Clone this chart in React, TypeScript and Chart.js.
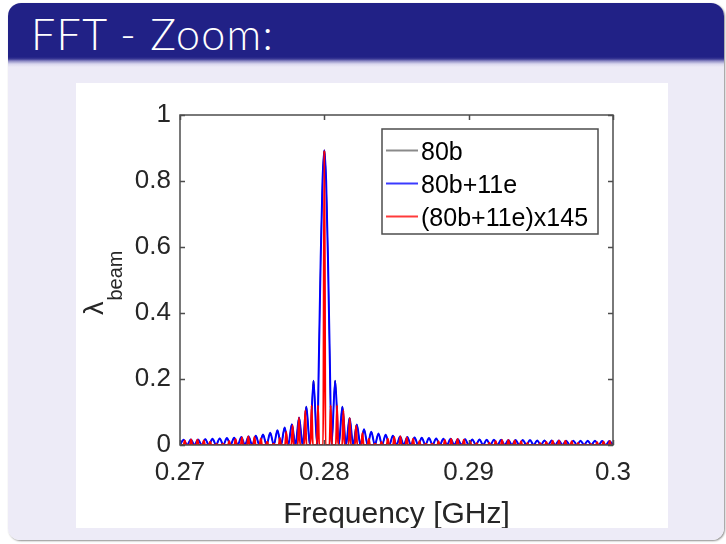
import React, { useEffect, useRef } from 'react';
import { Chart, registerables } from 'chart.js';

Chart.register(...registerables);

// ---- axis ticks ----
const xTickValues = [0.27, 0.28, 0.29, 0.3];
const xTickLabels = ['0.27', '0.28', '0.29', '0.3'];
const yTickValues = [0, 0.2, 0.4, 0.6, 0.8, 1];
const yTickLabels = ['0', '0.2', '0.4', '0.6', '0.8', '1'];

// ---- series names / colours ----
const seriesNames = ['80b', '80b+11e', '(80b+11e)x145'];
const seriesColors = ['#000000', '#0000ff', '#ff0000'];
const legendSwatchColors = ['#8a8a8a', '#3a3aff', '#ff3a3a'];

// ---- 80b+11e spectrum (frequency in GHz, amplitude) ----
const blueFreq = [
  0.27, 0.27025, 0.2705, 0.27075, 0.271, 0.27125, 0.2715, 0.27175, 0.272, 0.27225,
  0.2725, 0.27275, 0.273, 0.27325, 0.2735, 0.27375, 0.274, 0.27425, 0.2745, 0.27475,
  0.275, 0.27525, 0.2755, 0.27575, 0.276, 0.27625, 0.2765, 0.27675, 0.277, 0.27725,
  0.2775, 0.27775, 0.278, 0.27825, 0.2785, 0.27875, 0.279, 0.27925, 0.2795, 0.279625,
  0.27975, 0.279875, 0.28, 0.280125, 0.28025, 0.280375, 0.2805, 0.28075, 0.281, 0.28125,
  0.2815, 0.28175, 0.282, 0.28225, 0.2825, 0.28275, 0.283, 0.28325, 0.2835, 0.28375,
  0.284, 0.28425, 0.2845, 0.28475, 0.285, 0.28525, 0.2855, 0.28575, 0.286, 0.28625,
  0.2865, 0.28675, 0.287, 0.28725, 0.2875, 0.28775, 0.288, 0.28825, 0.2885, 0.28875,
  0.289, 0.28925, 0.2895, 0.28975, 0.29, 0.29025, 0.2905, 0.29075, 0.291, 0.29125,
  0.2915, 0.29175, 0.292, 0.29225, 0.2925, 0.29275, 0.293, 0.29325, 0.2935, 0.29375,
  0.294, 0.29425, 0.2945, 0.29475, 0.295, 0.29525, 0.2955, 0.29575, 0.296, 0.29625,
  0.2965, 0.29675, 0.297, 0.29725, 0.2975, 0.29775, 0.298, 0.29825, 0.2985, 0.29875,
  0.299, 0.29925, 0.2995, 0.29975, 0.3,
];
const blueValue = [
  0, 0.016, 0, 0.017, 0, 0.017, 0, 0.018, 0, 0.019,
  0, 0.020, 0, 0.021, 0, 0.022, 0, 0.024, 0, 0.026,
  0, 0.028, 0, 0.032, 0, 0.037, 0, 0.045, 0, 0.053,
  0, 0.063, 0, 0.083, 0, 0.116, 0, 0.195, 0, 0.27,
  0.57, 0.80, 0.893, 0.80, 0.57, 0.27, 0, 0.195, 0, 0.116,
  0, 0.082, 0, 0.062, 0, 0.048, 0, 0.040, 0, 0.035,
  0, 0.031, 0, 0.028, 0, 0.026, 0, 0.024, 0, 0.023,
  0, 0.022, 0, 0.021, 0, 0.020, 0, 0.019, 0, 0.019,
  0, 0.018, 0, 0.018, 0, 0.017, 0, 0.017, 0, 0.016,
  0, 0.016, 0, 0.016, 0, 0.015, 0, 0.015, 0, 0.015,
  0, 0.015, 0, 0.014, 0, 0.014, 0, 0.014, 0, 0.014,
  0, 0.013, 0, 0.013, 0, 0.013, 0, 0.013, 0, 0.013,
  0, 0.012, 0, 0.012, 0,
];
// 80b alone: identical trace, fully hidden under the blue one
const blackValue = blueValue;

// ---- (80b+11e)x145 spectrum: narrow comb lines (GHz, amplitude) ----
const redFreq = [
  0.27033, 0.27077, 0.27121, 0.27165, 0.27209, 0.27253, 0.27297, 0.27341, 0.27385, 0.27429,
  0.27473, 0.27516, 0.2756, 0.27604, 0.27648, 0.27692, 0.27736, 0.2778, 0.27824, 0.27868,
  0.27912, 0.27956, 0.28, 0.28044, 0.28088, 0.28132, 0.28176, 0.2822, 0.28264, 0.28308,
  0.28352, 0.28396, 0.2844, 0.28484, 0.28527, 0.28571, 0.28615, 0.28659, 0.28703, 0.28747,
  0.28791, 0.28835, 0.28879, 0.28923, 0.28967, 0.29011, 0.29055, 0.29099, 0.29143, 0.29187,
  0.29231, 0.29275, 0.29319, 0.29363, 0.29407, 0.29451, 0.29495, 0.29538, 0.29582, 0.29626,
  0.2967, 0.29714, 0.29758, 0.29802, 0.29846, 0.2989, 0.29934, 0.29978,
];
const redValue = [
  0.014, 0.017, 0.016, 0.014, 0.010, 0.003, 0.004, 0.012, 0.018, 0.023,
  0.026, 0.024, 0.020, 0.010, 0.004, 0.021, 0.040, 0.060, 0.083, 0.105,
  0.12, 0.12, 0.893, 0.12, 0.12, 0.105, 0.082, 0.059, 0.036, 0.019,
  0.004, 0.009, 0.019, 0.024, 0.026, 0.023, 0.019, 0.012, 0.004, 0.004,
  0.011, 0.015, 0.018, 0.018, 0.016, 0.011, 0.005, 0.001, 0.007, 0.012,
  0.015, 0.015, 0.014, 0.011, 0.006, 0.001, 0.005, 0.009, 0.013, 0.014,
  0.013, 0.011, 0.006, 0.002, 0.003, 0.008, 0.010, 0.012,
];

const FONT = "'Liberation Sans', Arial, Helvetica, sans-serif";
const TEXT = '#262626';

function tracePoints(fs: number[], vs: number[]) {
  return fs.map((f, i) => ({ x: f, y: vs[i] }));
}

// comb lines drawn as very narrow spikes sitting on the zero line
function spikePoints(fs: number[], vs: number[], halfWidth: number) {
  const pts: { x: number; y: number }[] = [{ x: xTickValues[0], y: 0 }];
  fs.forEach((f, i) => {
    pts.push({ x: f - halfWidth, y: 0 });
    pts.push({ x: f, y: vs[i] });
    pts.push({ x: f + halfWidth, y: 0 });
  });
  pts.push({ x: xTickValues[xTickValues.length - 1], y: 0 });
  return pts;
}

const matlabFrame = {
  id: 'matlabFrame',
  afterDatasetsDraw(chart: any) {
    const { ctx, chartArea: a, scales } = chart;
    ctx.save();
    // axes box
    ctx.strokeStyle = '#4d4d4d';
    ctx.lineWidth = 1.5;
    ctx.strokeRect(a.left, a.top, a.right - a.left, a.bottom - a.top);
    // inward ticks on all four sides
    const tl = 5;
    ctx.beginPath();
    xTickValues.forEach((v) => {
      const px = Math.round(scales.x.getPixelForValue(v)) + 0.5;
      ctx.moveTo(px, a.bottom);
      ctx.lineTo(px, a.bottom - tl);
      ctx.moveTo(px, a.top);
      ctx.lineTo(px, a.top + tl);
    });
    yTickValues.forEach((v) => {
      const py = Math.round(scales.y.getPixelForValue(v)) + 0.5;
      ctx.moveTo(a.left, py);
      ctx.lineTo(a.left + tl, py);
      ctx.moveTo(a.right, py);
      ctx.lineTo(a.right - tl, py);
    });
    ctx.stroke();

    // legend box (MATLAB style, north-east inside axes)
    const bw = 216;
    const bh = 105;
    const bx = a.right - 15 - bw;
    const by = a.top + 14;
    ctx.fillStyle = '#ffffff';
    ctx.fillRect(bx, by, bw, bh);
    ctx.strokeStyle = '#4d4d4d';
    ctx.lineWidth = 1.5;
    ctx.strokeRect(bx, by, bw, bh);
    const rows = [21.5, 54.5, 87.5];
    ctx.font = `25px ${FONT}`;
    ctx.textBaseline = 'alphabetic';
    ctx.textAlign = 'left';
    seriesNames.forEach((name, i) => {
      const cy = by + rows[i];
      ctx.strokeStyle = legendSwatchColors[i];
      ctx.lineWidth = 2;
      ctx.beginPath();
      ctx.moveTo(bx + 4, cy);
      ctx.lineTo(bx + 36, cy);
      ctx.stroke();
      ctx.fillStyle = '#000000';
      ctx.fillText(name, bx + 39, cy + 9);
    });

    // y-axis title: lambda with subscript "beam", rotated
    ctx.save();
    ctx.translate(27, 232);
    ctx.rotate(-Math.PI / 2);
    ctx.fillStyle = TEXT;
    ctx.font = `27px ${FONT}`;
    ctx.fillText('\u03bb', 0, 0);
    const lw = ctx.measureText('\u03bb').width;
    ctx.font = `20px ${FONT}`;
    ctx.fillText('beam', lw + 1, 19);
    ctx.restore();

    ctx.restore();
  },
};

export default function App() {
  const ref = useRef<HTMLCanvasElement | null>(null);

  useEffect(() => {
    if (!ref.current) return;
    const chart = new Chart(ref.current, {
      type: 'line',
      data: {
        datasets: [
          {
            label: seriesNames[0],
            data: tracePoints(blueFreq, blackValue),
            borderColor: seriesColors[0],
            borderWidth: 1,
            pointRadius: 0,
            cubicInterpolationMode: 'monotone',
            order: 3,
          },
          {
            label: seriesNames[1],
            data: tracePoints(blueFreq, blueValue),
            borderColor: seriesColors[1],
            borderWidth: 2,
            pointRadius: 0,
            cubicInterpolationMode: 'monotone',
            order: 2,
          },
          {
            label: seriesNames[2],
            data: spikePoints(redFreq, redValue, 0.00008),
            borderColor: seriesColors[2],
            borderWidth: 2,
            pointRadius: 0,
            cubicInterpolationMode: 'monotone',
            order: 1,
          },
        ],
      },
      options: {
        animation: false,
        responsive: false,
        devicePixelRatio: 1,
        layout: { padding: { left: 0, right: 55, top: 32, bottom: 0 } },
        plugins: {
          legend: { display: false },
          tooltip: { enabled: false },
          title: { display: false },
        },
        scales: {
          x: {
            type: 'linear',
            min: 0.27,
            max: 0.3,
            grid: { display: false, drawTicks: false },
            border: { display: false },
            afterBuildTicks: (s: any) => {
              s.ticks = xTickValues.map((v) => ({ value: v }));
            },
            afterFit: (s: any) => {
              s.height = 83;
            },
            ticks: {
              autoSkip: false,
              maxRotation: 0,
              padding: 12,
              color: TEXT,
              font: { family: FONT, size: 26 },
              callback: (_v: any, i: number) => xTickLabels[i],
            },
            title: {
              display: true,
              text: 'Frequency [GHz]',
              color: TEXT,
              font: { family: FONT, size: 30, lineHeight: 0.9 },
              padding: { top: 0, bottom: 0 },
            },
          },
          y: {
            type: 'linear',
            min: 0,
            max: 1,
            grid: { display: false, drawTicks: false },
            border: { display: false },
            afterBuildTicks: (s: any) => {
              s.ticks = yTickValues.map((v) => ({ value: v }));
            },
            afterFit: (s: any) => {
              s.width = 104;
            },
            ticks: {
              autoSkip: false,
              padding: 9,
              color: TEXT,
              font: { family: FONT, size: 26 },
              callback: (_v: any, i: number) => yTickLabels[i],
            },
          },
        },
      },
      plugins: [matlabFrame],
    } as any);
    return () => chart.destroy();
  }, []);

  return (
    <div
      style={{
        position: 'fixed',
        left: 0,
        top: 0,
        width: 726,
        height: 544,
        background: '#ffffff',
        overflow: 'hidden',
      }}
    >
      <div
        style={{
          position: 'absolute',
          left: 8,
          top: 3,
          width: 716,
          height: 537,
          borderRadius: '13px 13px 12px 12px',
          background:
            'linear-gradient(to bottom, #212186 0px, #212186 54px, #3b3a96 56px, #8d8bc4 58px, #d9d7ee 61px, #edebf7 64px, #edebf7 100%)',
          boxShadow: '1px 1px 2px rgba(0,0,0,0.45)',
        }}
      />
      <div
        style={{
          position: 'absolute',
          left: 31,
          top: 9,
          color: '#ffffff',
          fontFamily: "Lato, 'Open Sans', 'Liberation Sans', sans-serif",
          fontWeight: 300,
          fontSize: 43,
          letterSpacing: '1.3px',
          lineHeight: '50px',
          whiteSpace: 'nowrap',
        }}
      >
        FFT - Zoom:
      </div>
      <div
        style={{
          position: 'absolute',
          left: 76,
          top: 83,
          width: 592,
          height: 445,
          background: '#ffffff',
        }}
      >
        <canvas ref={ref} width={592} height={445} style={{ display: 'block', width: 592, height: 445 }} />
      </div>
    </div>
  );
}
